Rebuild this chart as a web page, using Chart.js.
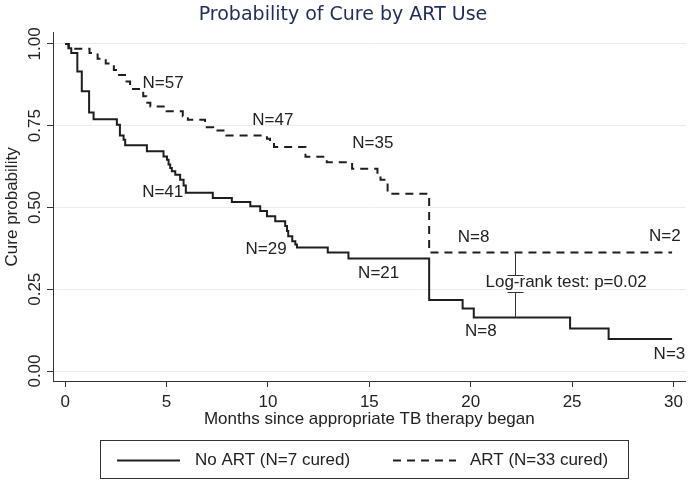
<!DOCTYPE html>
<html>
<head>
<meta charset="utf-8">
<script src="https://cdn.jsdelivr.net/npm/chart.js@4.4.0/dist/chart.umd.min.js"></script>
<style>
  html, body { margin: 0; padding: 0; background: #ffffff; }
  #wrap { width: 688px; height: 480px; }
</style>
</head>
<body>
<div id="wrap"><canvas id="c" width="688" height="480"></canvas></div>
<script>
// ---- data ----
const chartTitle = 'Probability of Cure by ART Use';
const xTitle = 'Months since appropriate TB therapy began';
const yTitle = 'Cure probability';
const xTicks = [0, 5, 10, 15, 20, 25, 30];
const yTicks = [0, 0.25, 0.5, 0.75, 1];
const yTickLabels = ['0.00', '0.25', '0.50', '0.75', '1.00'];

const noArtLabel = 'No ART (N=7 cured)';
const noArtTimes = [0, 0.16, 0.3, 0.6, 0.82, 1.18, 1.4, 2.55, 2.7, 2.88, 2.96, 4.03, 4.85, 5.02, 5.1, 5.18, 5.26, 5.43, 5.67, 5.84, 5.95, 7.28, 8.22, 9.13, 9.62, 9.95, 10.36, 10.85, 10.94, 11.0, 11.2, 11.35, 11.43, 12.95, 13.97, 17.95, 19.6, 20.15, 24.9, 26.8, 29.93];
const noArtSurv  = [1.0, 0.987, 0.972, 0.916, 0.855, 0.79, 0.77, 0.753, 0.72, 0.707, 0.69, 0.672, 0.656, 0.646, 0.631, 0.621, 0.611, 0.6, 0.585, 0.567, 0.545, 0.529, 0.517, 0.504, 0.489, 0.473, 0.458, 0.443, 0.428, 0.412, 0.397, 0.387, 0.378, 0.362, 0.344, 0.217, 0.191, 0.164, 0.13, 0.098, 0.098];

const artLabel = 'ART (N=33 cured)';
const artTimes = [0, 0.18, 1.2, 1.6, 2.0, 2.4, 2.6, 2.95, 3.2, 3.85, 4.0, 4.2, 5.0, 5.8, 6.05, 6.9, 7.3, 7.95, 9.95, 10.1, 10.3, 11.85, 12.9, 14.15, 15.4, 15.55, 15.9, 17.95, 29.93];
const artSurv  = [1.0, 0.985, 0.972, 0.955, 0.94, 0.92, 0.905, 0.885, 0.862, 0.84, 0.82, 0.809, 0.794, 0.779, 0.768, 0.745, 0.735, 0.72, 0.71, 0.697, 0.685, 0.655, 0.638, 0.618, 0.6, 0.585, 0.542, 0.362, 0.362];

// number-at-risk annotations: text, time, probability
const riskText  = ['N=57', 'N=47', 'N=35', 'N=8', 'N=2', 'N=41', 'N=29', 'N=21', 'N=8', 'N=3'];
const riskTime  = [4.83, 10.24, 15.17, 20.14, 29.57, 4.81, 9.91, 15.46, 20.5, 29.8];
const riskProb  = [0.88, 0.766, 0.697, 0.408, 0.413, 0.545, 0.372, 0.299, 0.12, 0.052];

const logrankText = 'Log-rank test: p=0.02';
const logrankTime = 24.7;
const logrankProb = 0.27;
const bracketTime = 22.16;
const bracketProbs = [0.362, 0.293, 0.242, 0.164];

// ---- chart ----
const FONT = "'Liberation Sans', Arial, Helvetica, sans-serif";
const INK = '#222222';

const toXY = (ts, vs) => ts.map((t, i) => ({ x: t, y: vs[i] }));

const annotations = {
  id: 'annotations',
  afterDatasetsDraw(chart) {
    const ctx = chart.ctx;
    const xs = chart.scales.x, ys = chart.scales.y;
    ctx.save();
    // y tick labels, rotated
    ctx.fillStyle = INK;
    ctx.font = '17px ' + FONT;
    ctx.textAlign = 'center';
    ctx.textBaseline = 'alphabetic';
    yTicks.forEach((v, i) => {
      ctx.save();
      ctx.translate(ys.left + 40, ys.getPixelForValue(v));
      ctx.rotate(-Math.PI / 2);
      ctx.fillText(yTickLabels[i], 0, 0);
      ctx.restore();
    });
    // number at risk labels
    ctx.textBaseline = 'middle';
    riskText.forEach((t, i) => {
      ctx.fillText(t, xs.getPixelForValue(riskTime[i]), ys.getPixelForValue(riskProb[i]));
    });
    // log-rank text
    ctx.fillText(logrankText, xs.getPixelForValue(logrankTime), ys.getPixelForValue(logrankProb));
    // bracket
    ctx.strokeStyle = '#333333';
    ctx.lineWidth = 1;
    const bx = Math.round(xs.getPixelForValue(bracketTime)) + 0.5;
    const p = bracketProbs.map(v => Math.round(ys.getPixelForValue(v)) + 0.5);
    ctx.beginPath();
    ctx.moveTo(bx, p[0]); ctx.lineTo(bx, p[1]);
    ctx.moveTo(bx - 8, p[1]); ctx.lineTo(bx + 8, p[1]);
    ctx.moveTo(bx - 8, p[2]); ctx.lineTo(bx + 8, p[2]);
    ctx.moveTo(bx, p[2]); ctx.lineTo(bx, p[3]);
    ctx.stroke();
    ctx.restore();
  },
  afterDraw(chart) {
    // legend box
    const ctx = chart.ctx;
    const ds = chart.data.datasets;
    ctx.save();
    ctx.strokeStyle = '#333333';
    ctx.lineWidth = 1;
    ctx.strokeRect(100.5, 440.5, 528, 38);
    const cy = 460;
    const items = [{ x0: 117, tx: 195 }, { x0: 393, tx: 470 }];
    ctx.font = '17px ' + FONT;
    ctx.fillStyle = INK;
    ctx.textAlign = 'left';
    ctx.textBaseline = 'middle';
    items.forEach((it, i) => {
      ctx.strokeStyle = ds[i].borderColor;
      ctx.lineWidth = ds[i].borderWidth;
      ctx.setLineDash(ds[i].borderDash || []);
      ctx.beginPath();
      ctx.moveTo(it.x0, cy + 0.5);
      ctx.lineTo(it.x0 + 63, cy + 0.5);
      ctx.stroke();
      ctx.setLineDash([]);
      ctx.fillText(ds[i].label, it.tx, cy);
    });
    ctx.restore();
  }
};

new Chart(document.getElementById('c'), {
  type: 'line',
  data: {
    datasets: [
      {
        label: noArtLabel,
        data: toXY(noArtTimes, noArtSurv),
        stepped: 'before',
        borderColor: '#1e1e1e',
        borderWidth: 2,
        borderDash: [],
        pointRadius: 0,
        fill: false
      },
      {
        label: artLabel,
        data: toXY(artTimes, artSurv),
        stepped: 'before',
        borderColor: '#1e1e1e',
        borderWidth: 2,
        borderDash: [8, 6],
        pointRadius: 0,
        fill: false
      }
    ]
  },
  options: {
    responsive: false,
    animation: false,
    devicePixelRatio: 1,
    layout: { padding: { left: 0, right: 2, top: 0, bottom: 50 } },
    plugins: {
      legend: { display: false },
      tooltip: { enabled: false },
      title: {
        display: true,
        text: chartTitle,
        color: '#1f2d5c',
        font: { family: "'DejaVu Sans', sans-serif", size: 19, weight: 'normal' },
        padding: { top: 4, bottom: 6 }
      }
    },
    scales: {
      x: {
        type: 'linear',
        min: -0.6,
        max: 30.6,
        afterBuildTicks: s => { s.ticks = xTicks.map(v => ({ value: v })); },
        afterFit: s => { s.height = 49; },
        ticks: { color: INK, font: { family: FONT, size: 17 }, padding: 5, maxRotation: 0 },
        grid: { drawOnChartArea: false, drawTicks: true, tickLength: 6, tickColor: '#333333' },
        border: { display: true, color: '#333333', width: 1 },
        title: { display: true, text: xTitle, color: INK, font: { family: FONT, size: 17 }, padding: { top: 0, bottom: 0 } }
      },
      y: {
        type: 'linear',
        min: -0.0305,
        max: 1.034,
        afterBuildTicks: s => { s.ticks = yTicks.map(v => ({ value: v })); },
        afterFit: s => { s.width = 53; },
        ticks: { display: false },
        grid: { color: '#e6eef1', lineWidth: 1, drawTicks: true, tickLength: 6, tickColor: '#333333' },
        border: { display: true, color: '#333333', width: 1 },
        title: { display: true, text: yTitle, color: INK, font: { family: FONT, size: 17 }, padding: { top: 2, bottom: 0 } }
      }
    }
  },
  plugins: [annotations]
});
</script>
</body>
</html>
